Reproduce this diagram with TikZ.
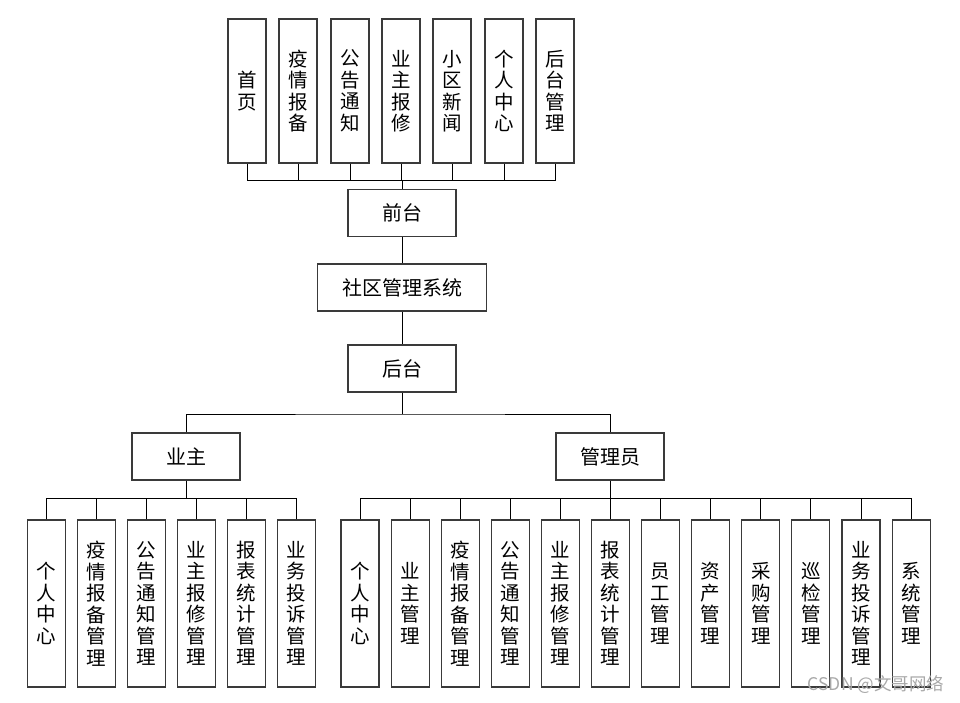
\documentclass[tikz,border=0pt]{standalone}
\usepackage{fontspec}
\newfontfamily\cjk{Noto Sans CJK SC}
\definecolor{boxGray}{HTML}{3A3A3A}
\definecolor{markGray}{HTML}{A8A8A8}
\tikzset{
  vbox/.style={draw=boxGray, line width=1.1pt, minimum width=38pt,
               minimum height=144pt, inner sep=0pt, align=center,
               font=\cjk\fontsize{19.5}{21.5}\selectfont},
  lbox/.style={vbox, minimum height=167pt},
  hbox/.style={draw=boxGray, line width=1.1pt, minimum width=108pt,
               minimum height=47pt, inner sep=0pt,
               font=\cjk\fontsize{20}{22}\selectfont},
  link/.style={black, line width=0.9pt},
}
\begin{document}
\begin{tikzpicture}[x=1pt, y=-1pt]
    \useasboundingbox (0,0) rectangle (960,703);
    % front pages
    \node[vbox] (f1) at (247,91) {首\\页};
    \node[vbox] (f2) at (298,91) {疫\\情\\报\\备};
    \node[vbox] (f3) at (350,91) {公\\告\\通\\知};
    \node[vbox] (f4) at (401,91) {业\\主\\报\\修};
    \node[vbox] (f5) at (452,91) {小\\区\\新\\闻};
    \node[vbox] (f6) at (504,91) {个\\人\\中\\心};
    \node[vbox] (f7) at (555,91) {后\\台\\管\\理};
    % middle chain
    \node[hbox] (front) at (402,213) {前台};
    \node[hbox, minimum width=169pt] (sys) at (402,287.5) {社区管理系统};
    \node[hbox] (back) at (402,368.5) {后台};
    \node[hbox] (owner) at (186,456.5) {业主};
    \node[hbox] (admin) at (610,456.5) {管理员};
    % owner pages
    \node[lbox] (o1) at (46.5,603.5) {个\\人\\中\\心};
    \node[lbox] (o2) at (96.5,603.5) {疫\\情\\报\\备\\管\\理};
    \node[lbox] (o3) at (146.5,603.5) {公\\告\\通\\知\\管\\理};
    \node[lbox] (o4) at (196.5,603.5) {业\\主\\报\\修\\管\\理};
    \node[lbox] (o5) at (246.5,603.5) {报\\表\\统\\计\\管\\理};
    \node[lbox] (o6) at (296.5,603.5) {业\\务\\投\\诉\\管\\理};
    % admin pages
    \node[lbox] (a1) at (360,603.5) {个\\人\\中\\心};
    \node[lbox] (a2) at (410.1,603.5) {业\\主\\管\\理};
    \node[lbox] (a3) at (460.2,603.5) {疫\\情\\报\\备\\管\\理};
    \node[lbox] (a4) at (510.3,603.5) {公\\告\\通\\知\\管\\理};
    \node[lbox] (a5) at (560.4,603.5) {业\\主\\报\\修\\管\\理};
    \node[lbox] (a6) at (610.5,603.5) {报\\表\\统\\计\\管\\理};
    \node[lbox] (a7) at (660.6,603.5) {员\\工\\管\\理};
    \node[lbox] (a8) at (710.7,603.5) {资\\产\\管\\理};
    \node[lbox] (a9) at (760.8,603.5) {采\\购\\管\\理};
    \node[lbox] (a10) at (810.9,603.5) {巡\\检\\管\\理};
    \node[lbox] (a11) at (861,603.5) {业\\务\\投\\诉\\管\\理};
    \node[lbox] (a12) at (911.1,603.5) {系\\统\\管\\理};
    % bus points
    \coordinate (fbus) at (402,180);
    \coordinate (bbus) at (402,414);
    \coordinate (obus) at (186,498);
    \coordinate (abus) at (610,498);
    % links
    \draw[link] (f1.south) |- (fbus); \draw[link] (f2.south) |- (fbus);
    \draw[link] (f3.south) |- (fbus); \draw[link] (f4.south) |- (fbus);
    \draw[link] (f5.south) |- (fbus); \draw[link] (f6.south) |- (fbus);
    \draw[link] (f7.south) |- (fbus);
    \draw[link] (fbus) -- (front.north);
    \draw[link] (front.south) -- (sys.north);
    \draw[link] (sys.south) -- (back.north);
    \draw[link] (back.south) -- (bbus);
    \draw[link] (owner.north) |- (bbus) -| (admin.north);
    \draw[link] (owner.south) -- (obus);
    \draw[link] (o1.north) |- (obus); \draw[link] (o2.north) |- (obus);
    \draw[link] (o3.north) |- (obus); \draw[link] (o4.north) |- (obus);
    \draw[link] (o5.north) |- (obus); \draw[link] (o6.north) |- (obus);
    \draw[link] (admin.south) -- (abus);
    \draw[link] (a1.north) |- (abus); \draw[link] (a2.north) |- (abus);
    \draw[link] (a3.north) |- (abus); \draw[link] (a4.north) |- (abus);
    \draw[link] (a5.north) |- (abus); \draw[link] (a6.north) |- (abus);
    \draw[link] (a7.north) |- (abus); \draw[link] (a8.north) |- (abus);
    \draw[link] (a9.north) |- (abus); \draw[link] (a10.north) |- (abus);
    \draw[link] (a11.north) |- (abus); \draw[link] (a12.north) |- (abus);
    % watermark
    \node[markGray, font=\cjk\fontsize{17.5}{19}\selectfont] (mark) at (876,685) {CSDN @文哥网络};
\end{tikzpicture}
\end{document}
